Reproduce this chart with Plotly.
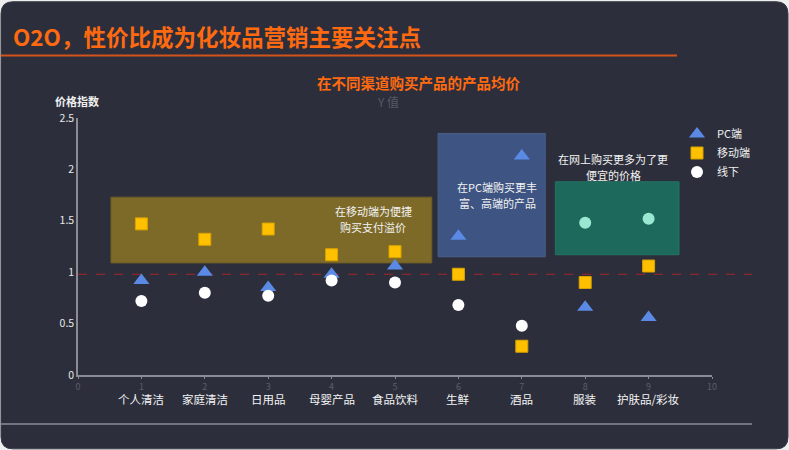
import plotly.graph_objects as go

categories = ["个人清洁", "家庭清洁", "日用品", "母婴产品", "食品饮料", "生鲜", "酒品", "服装", "护肤品/彩妆"]
x_pos = [1, 2, 3, 4, 5, 6, 7, 8, 9]
pc_values = [0.92, 1.00, 0.85, 0.98, 1.06, 1.35, 2.13, 0.66, 0.56]
mobile_values = [1.47, 1.32, 1.42, 1.17, 1.20, 0.98, 0.28, 0.90, 1.06]
offline_values = [0.72, 0.80, 0.77, 0.92, 0.90, 0.68, 0.48, 1.48, 1.52]
y_ticks = [0, 0.5, 1, 1.5, 2, 2.5]
y_tick_text = ["0", "0.5", "1", "1.5", "2", "2.5"]
x_ticks = list(range(0, 11))

W, H = 789, 450
L, R, T, B = 78, 712, 117.5, 375.0


def px(xp):
    return (xp - L) / (R - L)


def py(yp):
    return (B - yp) / (B - T)


FONT = "Noto Sans CJK SC"
ORANGE = "#ff6a10"
BG = "#2c2f3b"

offline_colors = ["#ffffff"] * 7 + ["#9be8d2", "#9be8d2"]

fig = go.Figure()
fig.add_trace(go.Scatter(x=x_pos, y=pc_values, mode="markers", name="PC端",
                         marker=dict(symbol="triangle-up", size=14, color="#5b8ae6")))
fig.add_trace(go.Scatter(x=x_pos, y=mobile_values, mode="markers", name="移动端",
                         marker=dict(symbol="square", size=12, color="#ffc000",
                                     line=dict(color="#d9a200", width=1))))
fig.add_trace(go.Scatter(x=x_pos, y=offline_values, mode="markers", name="线下",
                         marker=dict(symbol="circle", size=12, color=offline_colors)))

shapes = []
# rounded card background
r = 12
x0, x1, y0, y1 = px(1), px(788), py(1), py(449)
rx = r / (R - L)
ry = r / (B - T)
path = (f"M {x0+rx},{y0} L {x1-rx},{y0} Q {x1},{y0} {x1},{y0-ry} "
        f"L {x1},{y1+ry} Q {x1},{y1} {x1-rx},{y1} L {x0+rx},{y1} "
        f"Q {x0},{y1} {x0},{y1+ry} L {x0},{y0-ry} Q {x0},{y0} {x0+rx},{y0} Z")
shapes.append(dict(type="path", path=path, xref="paper", yref="paper",
                   fillcolor=BG, line=dict(color="#3a3d48", width=1), layer="below"))
# orange title rule
shapes.append(dict(type="line", xref="paper", yref="paper", x0=px(1), x1=px(677), y0=py(55), y1=py(55),
                   line=dict(color="#d4531a", width=2)))
# bottom gray rule
shapes.append(dict(type="line", xref="paper", yref="paper", x0=px(1), x1=px(752), y0=py(424), y1=py(424),
                   line=dict(color="#8a8d96", width=1.5)))
# highlight boxes
shapes.append(dict(type="rect", xref="x", yref="y", x0=0.52, x1=5.58, y0=1.09, y1=1.73,
                   fillcolor="#7d6a29", line=dict(color="#6e5d24", width=1), layer="below"))
shapes.append(dict(type="rect", xref="x", yref="y", x0=5.68, x1=7.37, y0=1.15, y1=2.35,
                   fillcolor="#3e5482", line=dict(color="#4a5f8c", width=1), layer="below"))
shapes.append(dict(type="rect", xref="x", yref="y", x0=7.53, x1=9.48, y0=1.17, y1=1.88,
                   fillcolor="#1d6a5c", line=dict(color="#227262", width=1), layer="below"))
# reference dashed line
shapes.append(dict(type="line", xref="paper", yref="y", x0=0, x1=px(752), y0=0.98, y1=0.98,
                   line=dict(color="#a3262a", width=1, dash="dash"), layer="below"))

annotations = [
    dict(text="<b>O2O，性价比成为化妆品营销主要关注点</b>", x=px(11), y=py(35), xref="paper", yref="paper",
         xanchor="left", yanchor="middle", showarrow=False, font=dict(family=FONT, size=22.5, color=ORANGE)),
    dict(text="Y 值", x=px(388), y=py(101), xref="paper", yref="paper", xanchor="center", yanchor="middle",
         showarrow=False, font=dict(family=FONT, size=12, color="#555966")),
    dict(text="<b>在不同渠道购买产品的产品均价</b>", x=px(418), y=py(82), xref="paper", yref="paper",
         xanchor="center", yanchor="middle", showarrow=False, font=dict(family=FONT, size=14.5, color=ORANGE)),
    dict(text="<b>价格指数</b>", x=px(77), y=py(100), xref="paper", yref="paper", xanchor="center",
         yanchor="middle", showarrow=False, font=dict(family=FONT, size=11, color="#f0f0f0")),
]
box_notes = [
    ("在移动端为便捷", 373, 211), ("购买支付溢价", 373, 227),
    ("在PC端购买更丰", 497, 187), ("富、高端的产品", 497, 203),
    ("在网上购买更多为了更", 613, 159), ("便宜的价格", 613, 175),
]
for txt, xx, yy in box_notes:
    annotations.append(dict(text=txt, x=px(xx), y=py(yy), xref="paper", yref="paper",
                            xanchor="center", yanchor="middle", showarrow=False,
                            font=dict(family=FONT, size=11, color="#f2f2f2")))
for xv, cat in zip(x_pos, categories):
    annotations.append(dict(text=cat, x=xv, y=py(399), xref="x", yref="paper", xanchor="center",
                            yanchor="middle", showarrow=False,
                            font=dict(family=FONT, size=11.5, color="#f4f4f4")))

fig.update_layout(
    width=W, height=H, autosize=False,
    margin=dict(l=L, r=W - R, t=T, b=H - B, pad=0),
    paper_bgcolor="#eeeeee", plot_bgcolor="rgba(0,0,0,0)",
    font=dict(family=FONT, color="#f0f0f0"),
    showlegend=True,
    legend=dict(x=px(677), y=py(119), xanchor="left", yanchor="top", bgcolor="rgba(0,0,0,0)",
                font=dict(family=FONT, size=11, color="#f0f0f0"), tracegroupgap=0, itemwidth=30),
    shapes=shapes, annotations=annotations,
    xaxis=dict(range=[0, 10], tickvals=x_ticks, showgrid=False, zeroline=False, showline=True,
               linecolor="#8a8d96", linewidth=1.5, ticks="outside", ticklen=2, tickcolor="#8a8d96",
               tickfont=dict(size=9, color="#5b5e69", family=FONT)),
    yaxis=dict(range=[0, 2.5], tickvals=y_ticks, ticktext=y_tick_text, showgrid=False, zeroline=False,
               showline=True, linecolor="#8a8d96", linewidth=1.5, ticks="",
               tickfont=dict(size=10.5, color="#e8e8e8", family=FONT)),
)

fig.write_html("out.html", config={"displayModeBar": False},
               post_script="document.body.style.margin='0';document.body.style.padding='0';")
